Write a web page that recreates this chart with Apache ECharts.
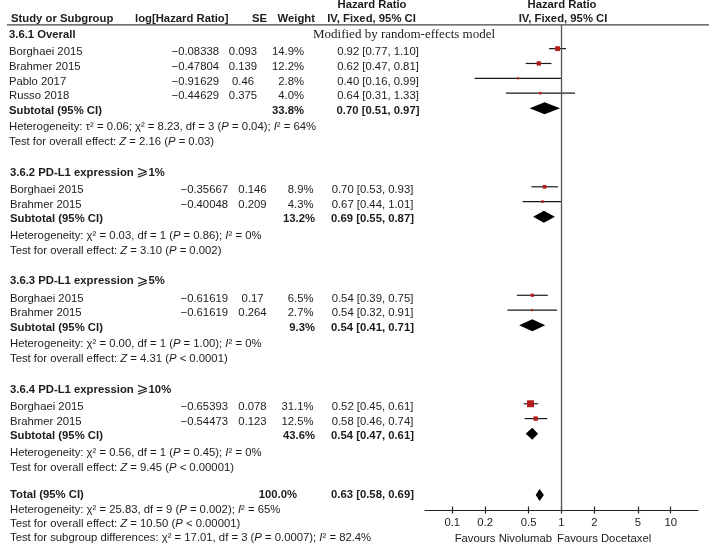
<!DOCTYPE html>
<html><head><meta charset="utf-8">
<script src="https://cdn.jsdelivr.net/npm/echarts@6/dist/echarts.min.js"></script>
<style>html,body{margin:0;padding:0;background:#fff}#c{width:709px;height:552px}</style>
</head><body><div id="c"></div><script>
// ---------------- DATA ----------------
const groupTitles = ['3.6.1 Overall', '3.6.2 PD-L1 expression ⩾1%', '3.6.3 PD-L1 expression ⩾5%', '3.6.4 PD-L1 expression ⩾10%'];
const studyGroup  = [0, 0, 0, 0, 1, 1, 2, 2, 3, 3];
const studyNames  = ['Borghaei 2015', 'Brahmer 2015', 'Pablo 2017', 'Russo 2018', 'Borghaei 2015', 'Brahmer 2015', 'Borghaei 2015', 'Brahmer 2015', 'Borghaei 2015', 'Brahmer 2015'];
const studyLogHR  = ['−0.08338', '−0.47804', '−0.91629', '−0.44629', '−0.35667', '−0.40048', '−0.61619', '−0.61619', '−0.65393', '−0.54473'];
const studySE     = ['0.093', '0.139', '0.46', '0.375', '0.146', '0.209', '0.17', '0.264', '0.078', '0.123'];
const studyWeight = [14.9, 12.2, 2.8, 4.0, 8.9, 4.3, 6.5, 2.7, 31.1, 12.5];
const studyHR     = [0.92, 0.62, 0.40, 0.64, 0.70, 0.67, 0.54, 0.54, 0.52, 0.58];
const studyLo     = [0.77, 0.47, 0.16, 0.31, 0.53, 0.44, 0.39, 0.32, 0.45, 0.46];
const studyHi     = [1.10, 0.81, 0.99, 1.33, 0.93, 1.01, 0.75, 0.91, 0.61, 0.74];
const subtotalWeight = [33.8, 13.2, 9.3, 43.6];
const subtotalHR     = [0.70, 0.69, 0.54, 0.54];
const subtotalLo     = [0.51, 0.55, 0.41, 0.47];
const subtotalHi     = [0.97, 0.87, 0.71, 0.61];
const heterogeneity = [
  'Heterogeneity: τ² = 0.06; χ² = 8.23, df = 3 ({i|P} = 0.04); {i|I}² = 64%',
  'Heterogeneity: χ² = 0.03, df = 1 ({i|P} = 0.86); {i|I}² = 0%',
  'Heterogeneity: χ² = 0.00, df = 1 ({i|P} = 1.00); {i|I}² = 0%',
  'Heterogeneity: χ² = 0.56, df = 1 ({i|P} = 0.45); {i|I}² = 0%'
];
const overallEffect = [
  'Test for overall effect: {i|Z} = 2.16 ({i|P} = 0.03)',
  'Test for overall effect: {i|Z} = 3.10 ({i|P} = 0.002)',
  'Test for overall effect: {i|Z} = 4.31 ({i|P} < 0.0001)',
  'Test for overall effect: {i|Z} = 9.45 ({i|P} < 0.00001)'
];
const totalWeight = [100.0];
const totalHR = [0.63];
const totalLo = [0.58];
const totalHi = [0.69];
const footerLines = [
  'Heterogeneity: χ² = 25.83, df = 9 ({i|P} = 0.002); {i|I}² = 65%',
  'Test for overall effect: {i|Z} = 10.50 ({i|P} < 0.00001)',
  'Test for subgroup differences: χ² = 17.01, df = 3 ({i|P} = 0.0007); {i|I}² = 82.4%'
];
const tickLabels = ['0.1', '0.2', '0.5', '1', '2', '5', '10'];
const favourLeft = 'Favours Nivolumab';
const favourRight = 'Favours Docetaxel';
const modelNote = 'Modified by random-effects model';

// ---------------- LAYOUT ----------------
const FONT = '"Liberation Sans", Arial, sans-serif';
const FS = 11.3;
const TXT = '#1c1c1c';
const LINE = 15.3, Y0 = 34.7;
const GRID_TOP = 25, GRID_BOTTOM_PX = 510;

const gapTable = {
  'header>study': 1.12, 'study>study': 0.97, 'study>subtotal': 0.95, 'subtotal>het': 1.05,
  'het>test': 1.0, 'test>header': 2.0, 'test>total': 1.75, 'total>fhet': 1.01,
  'fhet>ftest': 0.9, 'ftest>fsub': 0.9
};
const rows = [];
let pos = 0, prevType = null;
function addRow(type, info) {
  if (prevType !== null) pos += gapTable[prevType + '>' + type];
  rows.push(Object.assign({type, pos}, info));
  prevType = type;
}
for (let g = 0; g < groupTitles.length; g++) {
  addRow('header', {g});
  studyNames.forEach((n, i) => { if (studyGroup[i] === g) addRow('study', {g, i}); });
  addRow('subtotal', {g});
  addRow('het', {g});
  addRow('test', {g});
}
addRow('total', {});
addRow('fhet', {k: 0});
addRow('ftest', {k: 1});
addRow('fsub', {k: 2});

const yMin = (GRID_TOP - Y0) / LINE, yMax = (GRID_BOTTOM_PX - Y0) / LINE;
const L10 = v => Math.log10(v);

const studyData = [], diamondData = [];
rows.forEach(r => {
  if (r.type === 'study') {
    const i = r.i;
    studyData.push([L10(studyHR[i]), L10(studyLo[i]), L10(studyHi[i]), r.pos - 3.2 / LINE, studyWeight[i]]);
  } else if (r.type === 'subtotal') {
    const g = r.g;
    diamondData.push([L10(subtotalHR[g]), L10(subtotalLo[g]), L10(subtotalHi[g]), r.pos - 2.6 / LINE]);
  } else if (r.type === 'total') {
    diamondData.push([L10(totalHR[0]), L10(totalLo[0]), L10(totalHi[0]), r.pos + 0.6 / LINE]);
  }
});

const tickVals = tickLabels.map(t => L10(parseFloat(t)));
function tickFmt(v) {
  let best = 0;
  tickVals.forEach((t, k) => { if (Math.abs(t - v) < Math.abs(tickVals[best] - v)) best = k; });
  return tickLabels[best];
}

const chart = echarts.init(document.getElementById('c'), null, {renderer: 'canvas'});
const xBase = {
  type: 'value', min: -1.25, max: 1.25, gridIndex: 0, position: 'bottom',
  splitLine: {show: false}
};
chart.setOption({
  animation: false,
  backgroundColor: '#fff',
  grid: {left: 425, right: 11, top: GRID_TOP, bottom: 552 - GRID_BOTTOM_PX, containLabel: false},
  xAxis: [
    Object.assign({}, xBase, {
      axisLine: {show: true, onZero: false, lineStyle: {color: '#222', width: 1.2}},
      axisTick: {show: true, inside: false, length: 3.5, customValues: tickVals, lineStyle: {color: '#222', width: 1.2}},
      axisLabel: {show: true, customValues: tickVals, formatter: tickFmt, margin: 7,
        fontSize: FS, fontFamily: FONT, color: TXT}
    }),
    Object.assign({}, xBase, {
      axisLine: {show: false, onZero: false},
      axisTick: {show: true, inside: true, length: 3.5, customValues: tickVals, lineStyle: {color: '#222', width: 1.2}},
      axisLabel: {show: false}
    })
  ],
  yAxis: {type: 'value', inverse: true, min: yMin, max: yMax, show: false, splitLine: {show: false}},
  series: [
    {
      type: 'custom', name: 'studies', xAxisIndex: 0, yAxisIndex: 0,
      data: studyData, encode: {x: [0, 1, 2], y: 3},
      renderItem: (params, api) => {
        const y = api.value(3);
        const c = api.coord([api.value(0), y]);
        const l = api.coord([api.value(1), y]);
        const h = api.coord([api.value(2), y]);
        const s = Math.max(2, 1.25 * Math.sqrt(api.value(4)));
        return {type: 'group', children: [
          {type: 'line', shape: {x1: l[0], y1: c[1], x2: h[0], y2: c[1]}, style: {stroke: '#1a1a1a', lineWidth: 1.2}},
          {type: 'rect', shape: {x: c[0] - s / 2, y: c[1] - s / 2, width: s, height: s}, style: {fill: '#b71c1c'}}
        ]};
      },
      markLine: {
        silent: true, symbol: 'none', label: {show: false},
        lineStyle: {color: '#555', width: 1.3, type: 'solid'},
        data: [{xAxis: 0}]
      },
      z: 3
    },
    {
      type: 'custom', name: 'pooled', xAxisIndex: 0, yAxisIndex: 0,
      data: diamondData, encode: {x: [0, 1, 2], y: 3},
      renderItem: (params, api) => {
        const y = api.value(3);
        const c = api.coord([api.value(0), y]);
        const l = api.coord([api.value(1), y]);
        const h = api.coord([api.value(2), y]);
        const hh = 6;
        return {type: 'polygon', shape: {points: [[l[0], c[1]], [c[0], c[1] - hh], [h[0], c[1]], [c[0], c[1] + hh]]},
          style: {fill: '#000'}};
      },
      z: 4
    }
  ]
});

// ---------------- TEXT TABLE ----------------
const rich = {
  i: {fontStyle: 'italic', fontSize: FS, fontFamily: FONT, fill: TXT},
  ge: {fontSize: 14, fontWeight: 'normal', fontFamily: '"DejaVu Sans", sans-serif', fill: TXT}
};
function txt(x, y, s, o) {
  o = o || {};
  return {type: 'text', x: x, y: y, silent: true, z: 10,
    style: {text: s, fontSize: o.size || FS, fontFamily: o.family || FONT,
      fontWeight: o.bold ? 'bold' : 'normal', fill: TXT,
      align: o.align || 'left', verticalAlign: 'middle', rich: rich}};
}
const colsDefault = {name: 10, log: 228, se: 252.5, w: 313.5, hr: 372.5};
const colsSec1    = {name: 9,  log: 219, se: 243,   w: 304,   hr: 378};
const hrText = (h, l, u) => h.toFixed(2) + ' [' + l.toFixed(2) + ', ' + u.toFixed(2) + ']';
const yPix = p => chart.convertToPixel({gridIndex: 0}, [0, p])[1];

const els = [];
els.push(txt(372, 5, 'Hazard Ratio', {bold: true, align: 'center'}));
els.push(txt(562, 5, 'Hazard Ratio', {bold: true, align: 'center'}));
els.push(txt(11, 19, 'Study or Subgroup', {bold: true}));
els.push(txt(135, 19, 'log[Hazard Ratio]', {bold: true}));
els.push(txt(267, 19, 'SE', {bold: true, align: 'right'}));
els.push(txt(315, 19, 'Weight', {bold: true, align: 'right'}));
els.push(txt(371.5, 19, 'IV, Fixed, 95% CI', {bold: true, align: 'center'}));
els.push(txt(563, 19, 'IV, Fixed, 95% CI', {bold: true, align: 'center'}));
els.push({type: 'line', silent: true, z: 9, shape: {x1: 7, y1: 24.8, x2: 709, y2: 24.8}, style: {stroke: '#444', lineWidth: 1.3}});

rows.forEach(r => {
  const y = yPix(r.pos);
  const C = r.g === 0 ? colsSec1 : colsDefault;
  if (r.type === 'header') {
    els.push(txt(C.name, y, groupTitles[r.g].replace('⩾', '{ge|⩾}'), {bold: true}));
    if (r.g === 0) els.push(txt(313, y, modelNote, {size: 13, family: '"Liberation Serif", "Times New Roman", serif'}));
  } else if (r.type === 'study') {
    const i = r.i;
    els.push(txt(C.name, y, studyNames[i]));
    els.push(txt(C.log, y, studyLogHR[i], {align: 'right'}));
    els.push(txt(C.se, y, studySE[i], {align: 'center'}));
    els.push(txt(C.w, y, studyWeight[i].toFixed(1) + '%', {align: 'right'}));
    els.push(txt(C.hr, y, hrText(studyHR[i], studyLo[i], studyHi[i]), {align: 'center'}));
  } else if (r.type === 'subtotal') {
    const g = r.g;
    els.push(txt(C.name, y, 'Subtotal (95% CI)', {bold: true}));
    els.push(txt(C.w + (g === 0 ? 0 : 1.5), y, subtotalWeight[g].toFixed(1) + '%', {bold: true, align: 'right'}));
    els.push(txt(C.hr, y, hrText(subtotalHR[g], subtotalLo[g], subtotalHi[g]), {bold: true, align: 'center'}));
  } else if (r.type === 'het') {
    els.push(txt(C.name, y, heterogeneity[r.g]));
  } else if (r.type === 'test') {
    els.push(txt(C.name, y, overallEffect[r.g]));
  } else if (r.type === 'total') {
    els.push(txt(10, y, 'Total (95% CI)', {bold: true}));
    els.push(txt(297, y, totalWeight[0].toFixed(1) + '%', {bold: true, align: 'right'}));
    els.push(txt(372.5, y, hrText(totalHR[0], totalLo[0], totalHi[0]), {bold: true, align: 'center'}));
  } else {
    els.push(txt(10, y, footerLines[r.k]));
  }
});
els.push(txt(552, 539, favourLeft, {align: 'right'}));
els.push(txt(557, 539, favourRight, {align: 'left'}));

chart.setOption({graphic: {elements: els}});
</script></body></html>
